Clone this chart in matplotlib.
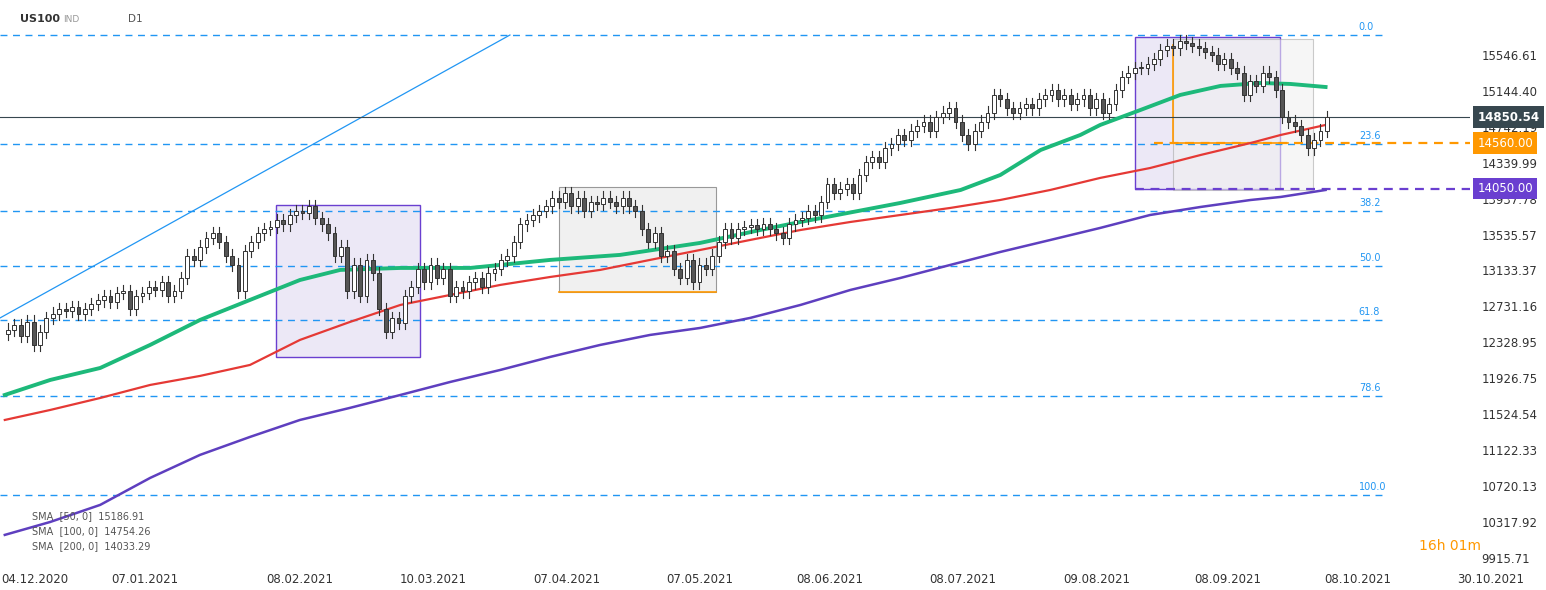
import numpy as np
import matplotlib.pyplot as plt
from matplotlib.patches import Rectangle

closes = [12470, 12520, 12400, 12560, 12300, 12450, 12600, 12650, 12700,
          12680, 12720, 12650, 12700, 12760, 12800, 12850, 12780, 12880, 12900, 12700, 12850,
          12880, 12950, 12920, 13000, 12850, 12900, 13050, 13300, 13250, 13400,
          13500, 13550, 13450, 13300, 13200, 12900, 13350, 13450, 13550, 13600,
          13620, 13700, 13650, 13750, 13800, 13780, 13850, 13720, 13650, 13550, 13300, 13400,
          12900, 13200, 12850, 13250, 13100, 12700, 12450, 12600, 12550, 12850, 12950,
          13150, 13000, 13200, 13050, 13150, 12850, 12950, 12900, 13000, 13050, 12950, 13100,
          13150, 13250, 13300, 13450, 13650, 13700, 13750, 13800, 13850, 13950,
          13900, 14000, 13850, 13950, 13800, 13900, 13880, 13950, 13900, 13850, 13950, 13850, 13800,
          13600, 13450, 13550, 13300, 13350, 13150, 13050, 13250, 13000, 13200,
          13150, 13300, 13450, 13600, 13500, 13600, 13620, 13640, 13600, 13650, 13600, 13550,
          13500, 13650, 13700, 13720, 13800, 13750, 13900, 14100, 14000, 14050,
          14100, 14000, 14200, 14350, 14400, 14350, 14500, 14550, 14650, 14600, 14700,
          14750, 14800, 14700, 14850, 14900, 14950, 14800, 14650, 14550, 14700, 14800,
          14900, 15100, 15050, 14950, 14900, 14950, 15000, 14950, 15050, 15100, 15150,
          15050, 15100, 15000, 15050, 15100, 14950, 15050, 14900, 15000,
          15150, 15300, 15350, 15400, 15400, 15450, 15500, 15600, 15650,
          15620, 15700, 15680, 15650, 15620, 15580, 15550, 15450, 15500, 15400,
          15350, 15100, 15250, 15200, 15350, 15300, 15150, 14850, 14800,
          14750, 14650, 14500, 14600, 14700, 14850]
first_open = 12420

sma50_i = [-0.5, 6.6, 14.4, 22.2, 30, 37.8, 45.6, 51.9, 61.3, 72.2, 84.7, 95.6, 108.1, 117.5, 123.8,
           139.4, 148.8, 155, 161.3, 167.5, 170.6, 176.9, 183.1, 189.4, 195.6, 200.3, 205.8]
sma50_v = [11740, 11908, 12042, 12300, 12580, 12804, 13027, 13140, 13162, 13162, 13252, 13308, 13442, 13587, 13677,
           13890, 14035, 14203, 14483, 14651, 14763, 14931, 15099, 15200, 15233, 15222, 15188]
sma100_i = [-0.5, 6.6, 14.4, 22.2, 30, 37.8, 45.6, 53.4, 61.3, 69.1, 76.9, 84.7, 92.5, 100.3, 108.1,
            115.9, 123.8, 131.6, 139.4, 147.2, 155, 162.8, 170.6, 178.4, 186.3, 194.1, 198.8, 205.8]
sma100_v = [11460, 11572, 11706, 11852, 11953, 12076, 12356, 12557, 12748, 12860, 12972, 13061, 13140, 13252, 13363,
            13475, 13587, 13677, 13755, 13834, 13923, 14035, 14170, 14281, 14427, 14561, 14651, 14763]
sma200_i = [-0.5, 6.6, 14.4, 22.2, 30, 37.8, 45.6, 53.4, 61.3, 69.1, 76.9, 84.7, 92.5, 100.3, 108.1,
            115.9, 123.8, 131.6, 139.4, 147.2, 155, 162.8, 170.6, 178.4, 186.3, 194.1, 198.8, 205.8]
sma200_v = [10173, 10318, 10509, 10811, 11069, 11270, 11460, 11595, 11740, 11886, 12020, 12166, 12300, 12412, 12490,
            12602, 12748, 12916, 13050, 13196, 13341, 13475, 13610, 13755, 13845, 13923, 13957, 14035]

fib_levels = ["0.0", "23.6", "38.2", "50.0", "61.8", "78.6", "100.0"]
fib_prices = [15770, 14550, 13800, 13185, 12580, 11729, 10620]

price_ticks = [15546.61, 15144.40, 14742.19, 14339.99, 13937.78, 13535.57, 13133.37,
               12731.16, 12328.95, 11926.75, 11524.54, 11122.33, 10720.13, 10317.92, 9915.71]
date_labels = ["04.12.2020", "07.01.2021", "08.02.2021", "10.03.2021", "07.04.2021", "07.05.2021",
               "08.06.2021", "08.07.2021", "09.08.2021", "08.09.2021", "08.10.2021", "30.10.2021"]
date_pos = [0, 21.4, 45.6, 66.4, 87.3, 108, 128.4, 149.2, 170, 190.6, 210.9, 231.6]
last_price = 14850.54

fig = plt.figure(figsize=(15.46, 5.9), dpi=100)
ax = fig.add_axes([0, 0.051, 0.951, 0.949])
ax.set_xlim(-1.25, 228.4)
ax.set_ylim(9893, 16162)

# fibo lines
for lvl, p in zip(fib_levels, fib_prices):
    ax.plot([-1.25, 215], [p, p], ls=(0, (5, 4)), color='#2196f3', lw=1)
    ax.text(211, p + 60, lvl, color='#2196f3', fontsize=7)

# trend line
ax.plot([-1.25, 78.4], [12602, 15770], color='#2196f3', lw=0.9)

# boxes
ax.add_patch(Rectangle((41.9, 12166), 22.5, 1701, fc='#ece8f6', ec='#6a3fd0', lw=1, zorder=1))
ax.add_patch(Rectangle((86, 12893), 24.6, 1176, fc='#f0f0f0', ec='#999999', lw=0.8, zorder=1))
ax.plot([86, 110.6], [12893, 12893], color='#ff9800', lw=1.2, zorder=2)
ax.add_patch(Rectangle((176, 14047), 22.7, 1701, fc='#ece8f6', ec='#6a3fd0', lw=1, zorder=1))
ax.add_patch(Rectangle((181.9, 14035), 21.9, 1691, fc='#f0f0f0', ec='#aaaaaa', lw=0.8, alpha=0.6, zorder=1))
ax.plot([181.9, 181.9], [15658, 14560], color='#ff9800', lw=1.2, zorder=2)
ax.plot([181.9, 200], [14560, 14560], color='#ff9800', lw=1.2, zorder=2)

# SMAs
ax.plot(sma50_i, sma50_v, color='#1db97a', lw=2.8, zorder=3)
ax.plot(sma100_i, sma100_v, color='#e53935', lw=1.6, zorder=3)
ax.plot(sma200_i, sma200_v, color='#5e3fbf', lw=1.8, zorder=3)

# candles
opens = [first_open] + closes[:-1]
for i, (o, c) in enumerate(zip(opens, closes)):
    hi = max(o, c) + 70
    lo = min(o, c) - 70
    ax.plot([i, i], [lo, hi], color='#333333', lw=0.8, zorder=4)
    up = c >= o
    ax.add_patch(Rectangle((i - 0.3, min(o, c)), 0.6, max(abs(c - o), 15),
                           fc='white' if up else '#555555', ec='#333333', lw=0.7, zorder=5))

# level lines
ax.axhline(last_price, color='#37474f', lw=0.8, zorder=2)
ax.plot([179, 228.4], [14560, 14560], ls=(0, (4, 3)), color='#ff9800', lw=1.6)
ax.plot([176, 228.4], [14050, 14050], ls=(0, (4, 3)), color='#6a3fd0', lw=1.6)

# right axis labels
ax.yaxis.tick_right()
ax.set_yticks(price_ticks)
ax.set_yticklabels([f"{p:.2f}" for p in price_ticks], fontsize=8.5, color='#333333')
ax.tick_params(axis='y', length=0, pad=8)
ax.set_xticks([])
for pos, lab in zip(date_pos, date_labels):
    ax.text(pos, -0.035, lab, fontsize=8.5, color='#333333', va='center',
            ha='left' if pos == 0 else 'center',
            transform=ax.get_xaxis_transform(), clip_on=False)
ax.texts[-len(date_labels)].set_x(-1.0)
for s in ax.spines.values():
    s.set_visible(False)

def tag(p, text, fc):
    ax.text(229.5, p, text, fontsize=8.5, color='white', va='center', ha='left',
            bbox=dict(boxstyle='square,pad=0.35', fc=fc, ec='none'), clip_on=False, zorder=10)

tag(last_price, "14850.54", '#37474f')
tag(14560, "14560.00", '#ff9800')
tag(14050, "14050.00", '#6a3fd0')
ax.texts[-3].set_fontweight('bold')

fig.text(0.013, 0.962, "US100", fontsize=8, color='#333333', fontweight='bold')
fig.text(0.041, 0.962, "IND", fontsize=6.5, color='#999999')
fig.text(0.083, 0.962, "D1", fontsize=7.5, color='#555555')
for k, txt in enumerate(["SMA  [50, 0]  15186.91", "SMA  [100, 0]  14754.26", "SMA  [200, 0]  14033.29"]):
    fig.text(0.021, 0.12 - k * 0.025, txt, fontsize=7, color='#555555')
fig.text(0.918, 0.068, "16h 01m", fontsize=10, color='#ff9800')

fig.savefig('out.png', dpi=100)
